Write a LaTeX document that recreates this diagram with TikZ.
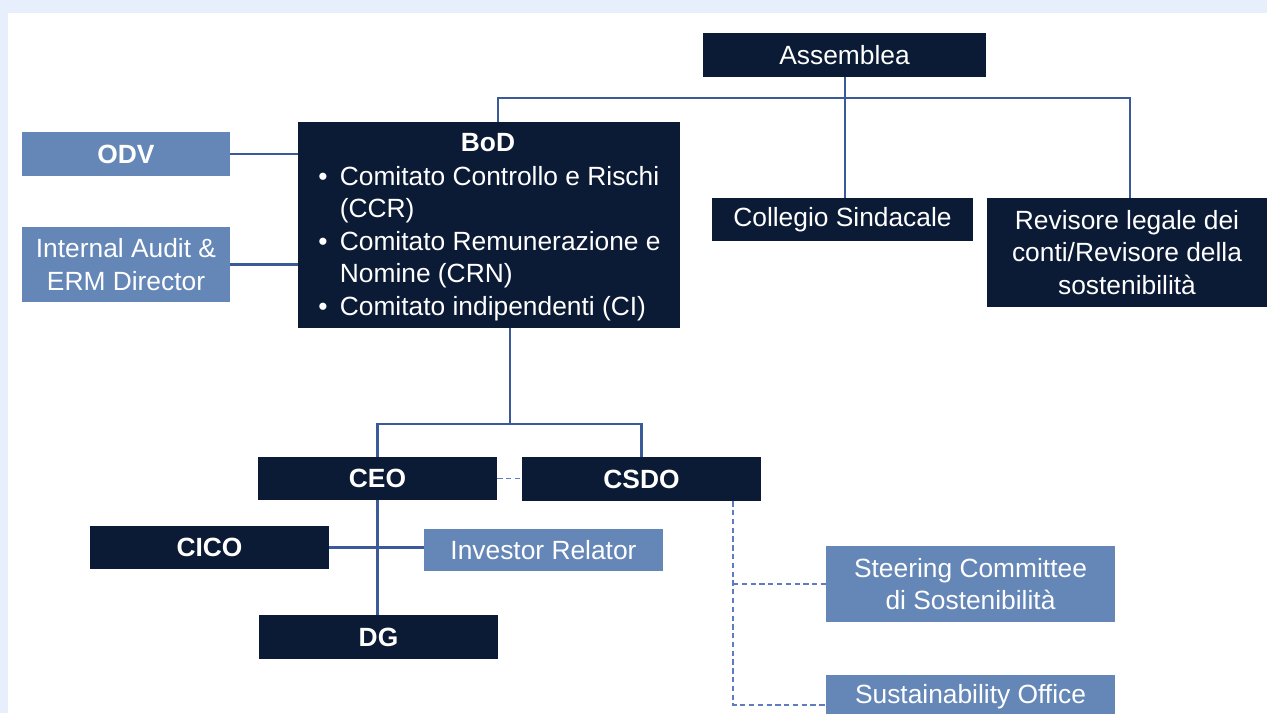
\documentclass[tikz,border=0pt]{standalone}
\usepackage{fontspec}
\setmainfont{Liberation Sans}
\definecolor{navy}{HTML}{0B1A35}
\definecolor{midblue}{HTML}{6587B8}
\definecolor{linkblue}{HTML}{3A5A9A}
\definecolor{dashblue}{HTML}{5D7DC0}
\definecolor{bgblue}{HTML}{E6EFFB}
\tikzset{
  darkbox/.style={fill=navy, text=white, inner sep=0pt, align=center, font=\fontsize{15}{18.5}\selectfont},
  lightbox/.style={fill=midblue, text=white, inner sep=0pt, align=center, font=\fontsize{15}{18.5}\selectfont},
  link/.style={draw=linkblue, line width=1.4pt},
  dotlink/.style={draw=dashblue, line width=0.6pt, dash pattern=on 3pt off 2pt}
}
\begin{document}
\begin{tikzpicture}[x=0.02cm, y=-0.02cm]
    \useasboundingbox (0, 0) rectangle (1267, 713);
    \fill [bgblue] (0, 0) rectangle (1267, 713);
    \fill [white] (8, 13) rectangle (1267, 713);

    % top level
    \node [darkbox, minimum width=283*0.02cm, minimum height=44*0.02cm] (assemblea) at (844.5, 55) {Assemblea};
    \node [darkbox, minimum width=261*0.02cm, minimum height=43*0.02cm] (collegio) at (842.5, 219.5) {Collegio Sindacale};
    \node [darkbox, minimum width=280*0.02cm, minimum height=109*0.02cm] (revisore) at (1127, 252.5) {Revisore legale dei\\conti/Revisore della\\sostenibilità};

    % board
    \node [darkbox, minimum width=382*0.02cm, minimum height=206*0.02cm] (bod) at (489, 225) {};
    \node [text=white, font=\fontsize{15}{18.5}\selectfont\bfseries] (bodtitle) at (488, 143) {BoD};
    \node [text=white, anchor=north west, inner sep=0pt, font=\fontsize{15}{18.5}\selectfont] (bodlist) at (318, 162) {%
      \begin{tabular}{@{}l@{\hspace{7pt}}l@{}}
        \textbullet & Comitato Controllo e Rischi\\
                    & (CCR)\\
        \textbullet & Comitato Remunerazione e\\
                    & Nomine (CRN)\\
        \textbullet & Comitato indipendenti (CI)
      \end{tabular}};

    \node [lightbox, minimum width=208*0.02cm, minimum height=44*0.02cm, font=\fontsize{15}{18.5}\selectfont\bfseries] (odv) at (126, 154) {ODV};
    \node [lightbox, minimum width=208*0.02cm, minimum height=75*0.02cm] (audit) at (126, 264.5) {Internal Audit \&\\ERM Director};

    % management
    \node [darkbox, minimum width=239*0.02cm, minimum height=43*0.02cm, font=\fontsize{15}{18.5}\selectfont\bfseries] (ceo) at (377.5, 478.5) {CEO};
    \node [darkbox, minimum width=239*0.02cm, minimum height=44*0.02cm, font=\fontsize{15}{18.5}\selectfont\bfseries] (csdo) at (641.5, 479) {CSDO};
    \node [darkbox, minimum width=239*0.02cm, minimum height=43*0.02cm, font=\fontsize{15}{18.5}\selectfont\bfseries] (cico) at (209.5, 547.5) {CICO};
    \node [lightbox, minimum width=239*0.02cm, minimum height=42*0.02cm] (investor) at (543.5, 550) {Investor Relator};
    \node [darkbox, minimum width=239*0.02cm, minimum height=44*0.02cm, font=\fontsize{15}{18.5}\selectfont\bfseries] (dg) at (378.5, 637) {DG};

    \node [lightbox, minimum width=289*0.02cm, minimum height=76*0.02cm] (steering) at (970.5, 584) {Steering Committee\\di Sostenibilità};
    \node [lightbox, minimum width=289*0.02cm, minimum height=44*0.02cm] (office) at (970.5, 697) {Sustainability Office};

    % connectors
    \coordinate (top) at (845, 98);
    \coordinate (split) at (510, 424);
    \coordinate (branch) at (733, 705);

    \draw [link] (top |- assemblea.south) -- (top |- collegio.north);
    \draw [link] ([xshift=0.18cm]bod.north) |- (top) -| ([xshift=0.06cm]revisore.north);
    \draw [link] (odv.east) -- (odv.east -| bod.west);
    \draw [link] (audit.east) -- (audit.east -| bod.west);
    \draw [link] (split |- bod.south) -- (split);
    \draw [link] (ceo.north) |- (split) -| (csdo.north);
    \draw [link] (ceo.south) -- (ceo.south |- dg.north);
    \draw [link] (cico.east) -- (cico.east -| investor.west);

    \draw [dotlink] (ceo.east) -- (ceo.east -| csdo.west);
    \draw [dotlink] (branch |- csdo.south) -- (branch) -- (branch -| office.west);
    \draw [dotlink] (branch |- steering.west) -- (steering.west);
  \end{tikzpicture}
\end{document}
